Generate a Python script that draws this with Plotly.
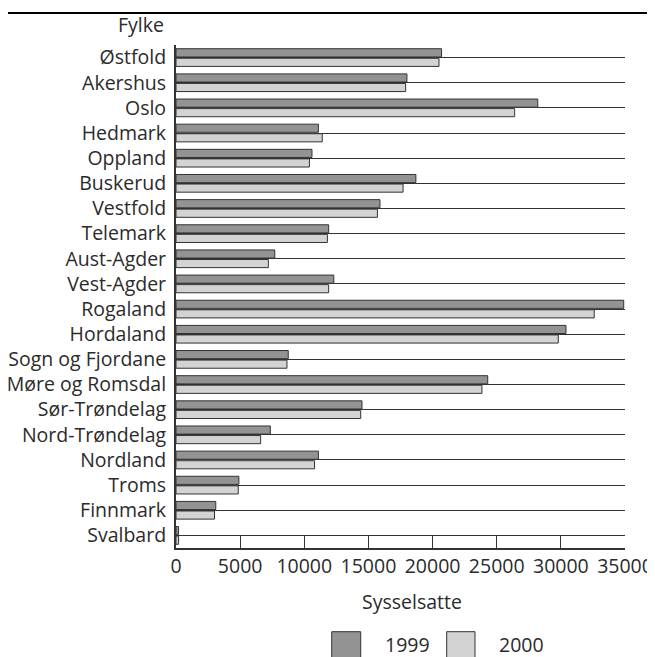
import plotly.graph_objects as go

categories = ["Østfold", "Akershus", "Oslo", "Hedmark", "Oppland", "Buskerud",
              "Vestfold", "Telemark", "Aust-Agder", "Vest-Agder", "Rogaland",
              "Hordaland", "Sogn og Fjordane", "Møre og Romsdal", "Sør-Trøndelag",
              "Nord-Trøndelag", "Nordland", "Troms", "Finnmark", "Svalbard"]
values_1999 = [20700, 18000, 28200, 11100, 10600, 18700, 15900, 11900, 7700, 12300,
               34900, 30400, 8750, 24300, 14500, 7350, 11100, 4900, 3100, 200]
values_2000 = [20500, 17900, 26400, 11400, 10400, 17700, 15700, 11800, 7200, 11900,
               32600, 29800, 8650, 23850, 14400, 6600, 10800, 4850, 3000, 200]
series_names = ["1999", "2000"]
series_colors = ["#939393", "#d3d3d3"]
x_ticks = [0, 5000, 10000, 15000, 20000, 25000, 30000, 35000]

FONT = "Open Sans"
TXT = "#2b2b2b"
LINE = "#333333"
FS = 19.5

fig = go.Figure()
for name, vals, col in zip(series_names, [values_1999, values_2000], series_colors):
    fig.add_trace(go.Bar(y=categories, x=vals, name=name, orientation="h",
                         marker=dict(color=col, line=dict(color=LINE, width=1))))

# legend drawn as large boxes (like the reference) + labels
legend_boxes = [(0.3468, 0.4114), (0.6029, 0.6659)]
legend_text_x = [0.461, 0.7143]
shapes = [dict(type="line", xref="paper", yref="paper", x0=-0.379, x1=1.07,
               y0=1.0636, y1=1.0636, line=dict(color="black", width=2))]
annotations = [
    dict(text="Fylke", xref="paper", yref="paper", x=-0.022, y=1.04,
         xanchor="right", yanchor="middle", showarrow=False,
         font=dict(family=FONT, size=FS, color=TXT)),
    dict(text="Sysselsatte", xref="paper", yref="paper", x=0.5256, y=-0.1064,
         xanchor="center", yanchor="middle", showarrow=False,
         font=dict(family=FONT, size=FS, color=TXT)),
]
for (bx0, bx1), tx, name, col in zip(legend_boxes, legend_text_x, series_names, series_colors):
    shapes.append(dict(type="rect", xref="paper", yref="paper", x0=bx0, x1=bx1,
                       y0=-0.1664, y1=-0.2266, fillcolor=col,
                       line=dict(color=LINE, width=1)))
    annotations.append(dict(text=name, xref="paper", yref="paper", x=tx, y=-0.1909,
                            xanchor="left", yanchor="middle", showarrow=False,
                            font=dict(family=FONT, size=FS, color=TXT)))

fig.update_layout(
    template="none",
    width=647, height=649,
    margin=dict(l=168, r=30, t=37, b=109, autoexpand=False),
    paper_bgcolor="white", plot_bgcolor="white",
    font=dict(family=FONT, size=FS, color=TXT),
    barmode="group", bargap=0.24, bargroupgap=0.15,
    showlegend=False,
    xaxis=dict(range=[0, 35000], tickvals=x_ticks, ticktext=[str(v) for v in x_ticks],
               ticks="inside", ticklen=12, tickwidth=1, tickcolor=LINE,
               showline=True, linecolor=LINE, linewidth=1.5,
               showgrid=False, zeroline=False, automargin=False),
    yaxis=dict(categoryorder="array", categoryarray=categories, autorange="reversed",
               showgrid=True, gridcolor=LINE, gridwidth=1, zeroline=False,
               showline=True, linecolor=LINE, linewidth=2, automargin=False,
               ticks="", ticklabelstandoff=4),
    annotations=annotations,
    shapes=shapes,
)

fig.write_html("out.html")
